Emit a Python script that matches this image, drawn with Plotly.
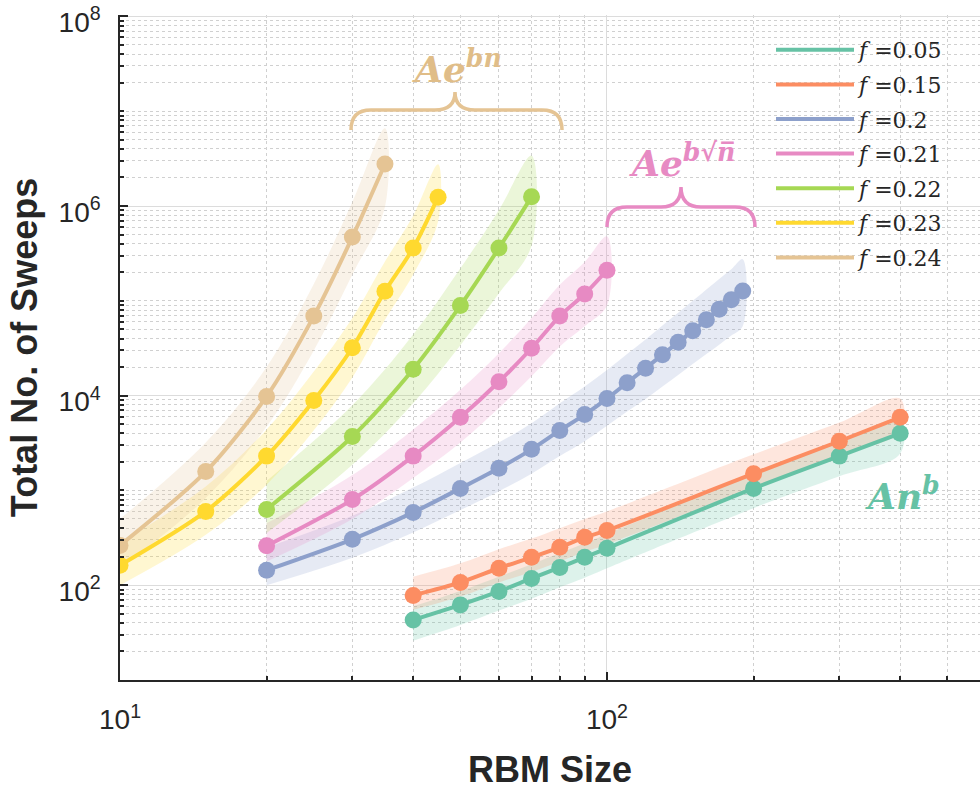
import plotly.graph_objects as go

# ---------------- data ----------------
labels = ["f =0.05", "f =0.15", "f =0.2", "f =0.21", "f =0.22", "f =0.23", "f =0.24"]
colors = ["#66c2a5", "#fc8d62", "#8da0cb", "#e78ac3", "#a6d854", "#ffd92f", "#e5c494"]

x_f005 = [40, 50, 60, 70, 80, 90, 100, 200, 300, 400]
y_f005 = [43, 62, 86, 118, 154, 197, 245, 1050, 2300, 4000]
hi_f005 = [60, 87, 123, 166, 219, 275, 347, 1480, 3240, 5600]
lo_f005 = [26, 38, 54, 72, 95, 120, 151, 650, 1410, 2450]

x_f015 = [40, 50, 60, 70, 80, 90, 100, 200, 300, 400]
y_f015 = [78, 107, 151, 197, 251, 320, 378, 1500, 3300, 5900]
hi_f015 = [123, 170, 240, 310, 400, 500, 600, 2400, 5200, 9300]
lo_f015 = [55, 76, 107, 138, 178, 224, 270, 1070, 2340, 4200]

x_f020 = [20, 30, 40, 50, 60, 70, 80, 90, 100, 110, 120, 130, 140, 150, 160, 170, 180, 190]
y_f020 = [144, 305, 586, 1050, 1710, 2710, 4290, 6310, 9300, 13700, 19400, 27000,
          36600, 48300, 63000, 81500, 102500, 127000]
hi_f020 = [250, 540, 1070, 1950, 3200, 5100, 8300, 12500, 18600, 27500, 39000, 55000,
           75000, 100000, 132000, 170000, 215000, 275000]
lo_f020 = [100, 195, 360, 620, 980, 1500, 2300, 3300, 4800, 6800, 9200, 12500,
           16500, 21500, 27500, 34500, 43000, 54000]

x_f021 = [20, 30, 40, 50, 60, 70, 80, 90, 100]
y_f021 = [260, 800, 2300, 5900, 14000, 31600, 69000, 118000, 210000]
hi_f021 = [450, 1450, 4400, 11500, 28000, 66000, 148000, 257000, 480000]
lo_f021 = [178, 500, 1350, 3200, 7400, 16000, 33000, 54000, 89000]

x_f022 = [20, 30, 40, 50, 60, 70]
y_f022 = [630, 3700, 19000, 89000, 360000, 1250000]
hi_f022 = [1260, 7900, 44000, 220000, 910000, 3400000]
lo_f022 = [355, 1860, 8300, 34000, 120000, 380000]

x_f023 = [10, 15, 20, 25, 30, 35, 40, 45]
y_f023 = [162, 600, 2300, 8900, 32000, 126000, 360000, 1240000]
hi_f023 = [280, 1100, 4400, 18000, 66000, 260000, 790000, 2750000]
lo_f023 = [100, 340, 1150, 4300, 15500, 63000, 190000, 690000]

x_f024 = [10, 15, 20, 25, 30, 35]
y_f024 = [263, 1580, 9800, 69000, 470000, 2770000]
hi_f024 = [500, 3200, 20000, 150000, 1100000, 6600000]
lo_f024 = [150, 830, 4700, 30000, 190000, 980000]

series = [
    (x_f005, y_f005, hi_f005, lo_f005),
    (x_f015, y_f015, hi_f015, lo_f015),
    (x_f020, y_f020, hi_f020, lo_f020),
    (x_f021, y_f021, hi_f021, lo_f021),
    (x_f022, y_f022, hi_f022, lo_f022),
    (x_f023, y_f023, hi_f023, lo_f023),
    (x_f024, y_f024, hi_f024, lo_f024),
]

x_ticks = [10, 100]
x_ticktext = ["10<sup>1</sup>", "10<sup>2</sup>"]
y_ticks = [1e2, 1e4, 1e6, 1e8]
y_ticktext = ["10<sup>2</sup>", "10<sup>4</sup>", "10<sup>6</sup>", "10<sup>8</sup>"]


def rgba(hexc, a):
    h = hexc.lstrip("#")
    return "rgba(%d,%d,%d,%.2f)" % (int(h[0:2], 16), int(h[2:4], 16), int(h[4:6], 16), a)


fig = go.Figure()

# confidence bands
for (xs, ys, hi, lo), c in zip(series, colors):
    fig.add_trace(go.Scatter(
        x=list(xs) + list(xs[::-1]), y=list(hi) + list(lo[::-1]),
        fill="toself", fillcolor=rgba(c, 0.22), line=dict(width=0, shape="spline"),
        mode="lines", hoverinfo="skip", showlegend=False))

# lines (legend entries) and markers
for i, ((xs, ys, hi, lo), c, lab) in enumerate(zip(series, colors, labels)):
    fig.add_trace(go.Scatter(
        x=xs, y=ys, mode="lines", line=dict(color=c, width=4, shape="spline", smoothing=0.8),
        name="<i>f</i> =" + lab.split("=")[1], legendgroup="g%d" % i, showlegend=True))
    fig.add_trace(go.Scatter(
        x=xs, y=ys, mode="markers", marker=dict(color=c, size=17),
        legendgroup="g%d" % i, showlegend=False))

# ---------------- layout helpers (page pixel -> paper) ----------------
W, H = 980, 790
L, R, T, B = 120, 980, 15, 680  # plot area in page pixels


def px(xp):
    return (xp - L) / (R - L)


def py(yp):
    return (B - yp) / (B - T)


def brace(x0, x1, xm, yh, ye, yt, r=20):
    return ("M {a},{b} Q {a},{c} {d},{c} L {e},{c} Q {m},{c} {m},{t} "
            "Q {m},{c} {f},{c} L {g},{c} Q {h},{c} {h},{b}").format(
        a=px(x0), b=py(ye), c=py(yh), d=px(x0 + r), e=px(xm - r), m=px(xm), t=py(yt),
        f=px(xm + r), g=px(x1 - r), h=px(x1))


shapes = [
    dict(type="path", xref="paper", yref="paper",
         path=brace(351, 562, 455, 110, 130, 92), line=dict(color="#e5c494", width=3.5)),
    dict(type="path", xref="paper", yref="paper",
         path=brace(607, 755, 681, 207, 227, 187), line=dict(color="#e78ac3", width=3.5)),
]


def mfont(c):
    return dict(family="DejaVu Serif", size=36, color=c, weight="bold", style="italic")


annotations = [
    dict(xref="paper", yref="paper", x=px(457), y=py(66), xanchor="center", yanchor="middle",
         text="Ae<sup>bn</sup>", showarrow=False, font=mfont("#e0bd88")),
    dict(xref="paper", yref="paper", x=px(682), y=py(160), xanchor="center", yanchor="middle",
         text="Ae<sup>b√n̅</sup>", showarrow=False, font=mfont("#e78ac3")),
    dict(xref="paper", yref="paper", x=px(902), y=py(493), xanchor="center", yanchor="middle",
         text="An<sup>b</sup>", showarrow=False, font=mfont("#66c2a5")),
]

x_minor = [k * 10 ** n for n in (1, 2) for k in range(2, 10) if k * 10 ** n < 600]
y_minor = [k * 10 ** n for n in range(1, 8) for k in range(1, 10)
           if not (k == 1 and n % 2 == 0) and not (k == 1 and n == 1)]

axis_font = dict(family="Liberation Sans", size=28, color="#262626")
title_font = dict(family="Liberation Sans", size=36, color="#262626")

common = dict(
    type="log", ticks="inside", ticklen=8, tickwidth=1.5, tickcolor="#262626",
    showline=True, linecolor="#262626", linewidth=1.5, mirror=False,
    showgrid=True, gridcolor="#dcdcdc", gridwidth=1, zeroline=False,
    tickfont=axis_font, ticklabeloverflow="allow",
)

fig.update_layout(
    width=W, height=H,
    margin=dict(l=L, r=W - R, t=T, b=H - B, autoexpand=False),
    plot_bgcolor="white", paper_bgcolor="white",
    shapes=shapes, annotations=annotations,
    legend=dict(x=px(771), y=py(29), xanchor="left", yanchor="top",
                bgcolor="rgba(0,0,0,0)", itemwidth=78, tracegroupgap=3,
                font=dict(family="DejaVu Serif", size=22, color="#262626")),
    xaxis=dict(range=[1, 2.766], tickvals=x_ticks, ticktext=x_ticktext,
               ticklabelstandoff=14,
               minor=dict(tickvals=x_minor, ticks="inside", ticklen=4, tickcolor="#262626",
                          showgrid=True, gridcolor="#d0d0d0", griddash="3px,3px", gridwidth=1),
               title=dict(text="<b>RBM Size</b>", font=title_font, standoff=26),
               **common),
    yaxis=dict(range=[1, 8.015], tickvals=y_ticks, ticktext=y_ticktext,
               ticklabelstandoff=12, ticklabelshift=6,
               minor=dict(tickvals=y_minor, ticks="inside", ticklen=4, tickcolor="#262626",
                          showgrid=True, gridcolor="#d0d0d0", griddash="3px,3px", gridwidth=1),
               title=dict(text="<b>Total No. of Sweeps</b>", font=title_font, standoff=10),
               **common),
)

fig.write_html("out.html", config={"displayModeBar": False},
               post_script="document.body.style.margin='0';")
